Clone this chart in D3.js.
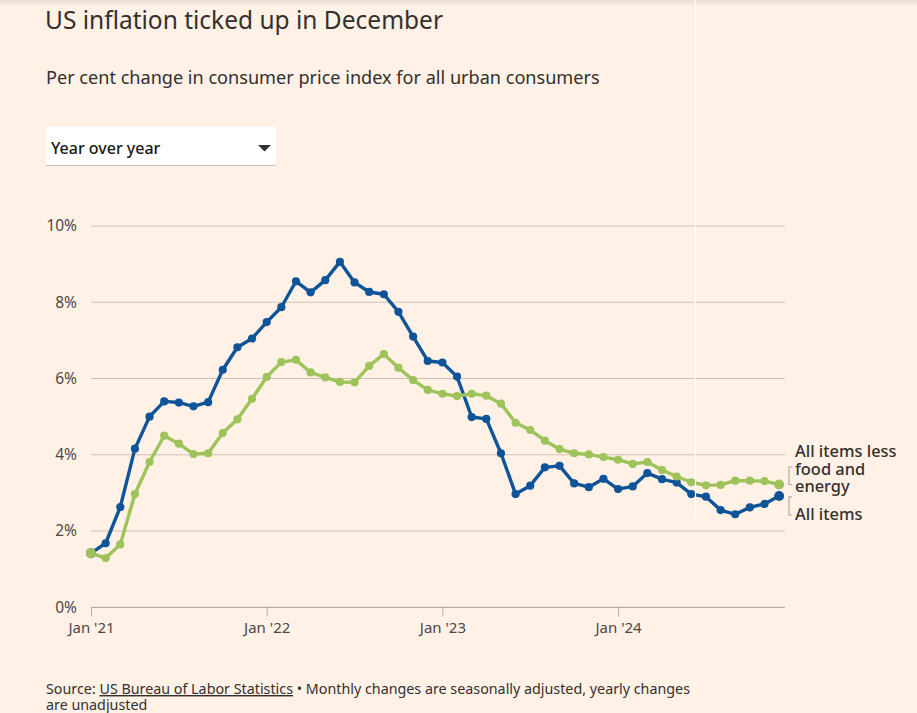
<!DOCTYPE html>
<html><head><meta charset="utf-8">
<script src="https://cdn.jsdelivr.net/npm/d3@7"></script>
<style>
html,body{margin:0;padding:0;background:#fff1e5;}
svg{display:block;font-family:"Noto Sans","Open Sans",sans-serif;}
</style></head>
<body><svg id="c" width="917" height="713"></svg>
<script>
const allItems = [1.42,1.68,2.63,4.16,5.00,5.40,5.37,5.27,5.38,6.23,6.82,7.05,
  7.48,7.87,8.55,8.26,8.58,9.06,8.52,8.27,8.21,7.75,7.10,6.46,
  6.42,6.05,4.99,4.94,4.04,2.97,3.19,3.67,3.71,3.25,3.15,3.37,
  3.10,3.17,3.52,3.36,3.27,2.97,2.90,2.55,2.44,2.62,2.71,2.92];
const core = [1.42,1.29,1.65,2.97,3.81,4.50,4.29,4.02,4.04,4.57,4.93,5.47,
  6.04,6.43,6.49,6.16,6.03,5.91,5.90,6.33,6.64,6.28,5.96,5.70,
  5.60,5.54,5.60,5.55,5.34,4.84,4.65,4.37,4.15,4.04,4.01,3.94,
  3.87,3.76,3.81,3.60,3.43,3.28,3.20,3.21,3.32,3.32,3.31,3.22];
const yTicks = [0,2,4,6,8,10];
const xTickIdx = [0,12,24,36];
const xTickLabels = ["Jan '21","Jan '22","Jan '23","Jan '24"];
const coreLabelLines = ["All items less","food and","energy"];
const allLabel = "All items";

const svg = d3.select("#c");
const x = d3.scaleLinear().domain([0,47.4]).range([91,785]);
const y = d3.scaleLinear().domain([0,10]).range([607.3,226]);

const defs = svg.append("defs");
const g0 = defs.append("linearGradient").attr("id","sh").attr("x1",0).attr("x2",0).attr("y1",0).attr("y2",1);
g0.append("stop").attr("offset",0).attr("stop-color","#e8dccf");
g0.append("stop").attr("offset",1).attr("stop-color","#fff1e5");
svg.append("rect").attr("x",0).attr("y",0).attr("width",917).attr("height",6).attr("fill","url(#sh)");

svg.append("text").attr("x",45).attr("y",29).attr("font-size",24.5).attr("fill","#33302e").text("US inflation ticked up in December");
svg.append("text").attr("x",46).attr("y",84).attr("font-size",18.1).attr("fill","#33302e").text("Per cent change in consumer price index for all urban consumers");

svg.append("rect").attr("x",46).attr("y",127).attr("width",230).attr("height",39).attr("fill","#ffffff");
svg.append("line").attr("x1",46).attr("x2",276).attr("y1",165.5).attr("y2",165.5).attr("stroke","#ccc1b7").attr("stroke-width",1);
svg.append("text").attr("x",51).attr("y",154).attr("font-size",16).attr("font-weight",500).attr("fill","#1a1817").text("Year over year");
svg.append("path").attr("d","M258,145 L271,145 L264.5,151.5 Z").attr("fill","#33302e");

svg.append("g").selectAll("line").data(yTicks.filter(d=>d>0)).join("line")
  .attr("x1",91).attr("x2",785).attr("y1",d=>y(d)).attr("y2",d=>y(d))
  .attr("stroke","#cdc2b8").attr("stroke-width",1);
svg.append("g").selectAll("text").data(yTicks).join("text")
  .attr("x",77).attr("y",d=>y(d)).attr("dy","0.35em").attr("text-anchor","end")
  .attr("font-size",15.5).attr("fill","#4d4845").text(d=>d+"%");

const xAxis = d3.axisBottom(x).tickValues(xTickIdx).tickFormat((d,i)=>xTickLabels[i]).tickSizeOuter(0).tickSize(9).tickPadding(6);
const ax = svg.append("g").attr("transform",`translate(0,${y(0)})`).call(xAxis);
ax.select(".domain").remove();
ax.append("line").attr("x1",91).attr("x2",785).attr("y1",0).attr("y2",0).attr("stroke","#a99d92").attr("stroke-width",1);
ax.selectAll(".tick line").attr("stroke","#b7aca2");
ax.selectAll(".tick text").attr("font-size",15).attr("fill","#4d4845").attr("font-family","Noto Sans, Open Sans, sans-serif");

const line = d3.line().x((d,i)=>x(i)).y(d=>y(d));
function drawSeries(vals, color){
  const g = svg.append("g");
  g.append("path").datum(vals).attr("d",line).attr("fill","none").attr("stroke",color).attr("stroke-width",3.4).attr("stroke-linejoin","round");
  g.selectAll("circle").data(vals).join("circle")
    .attr("cx",(d,i)=>x(i)).attr("cy",d=>y(d))
    .attr("r",(d,i)=> (i===0||i===vals.length-1)?5:4.1).attr("fill",color);
}
drawSeries(allItems,"#0f5499");
drawSeries(core,"#9dc35a");

svg.append("line").attr("x1",695.5).attr("x2",695.5).attr("y1",0).attr("y2",517).attr("stroke","#ffffff").attr("stroke-width",1.2);

const lastCore = y(core[core.length-1]), lastAll = y(allItems[allItems.length-1]);
svg.append("path").attr("d",`M792,467 H789 V${lastCore} H792`).attr("fill","none").attr("stroke","#b5aaa0").attr("stroke-width",1.2);
svg.append("path").attr("d",`M792,${lastAll+1} H789 V515 H792`).attr("fill","none").attr("stroke","#b5aaa0").attr("stroke-width",1.2);
const lg = svg.append("text").attr("x",795).attr("y",457).attr("font-size",16.4).attr("font-weight",500).attr("fill","#33302e");
coreLabelLines.forEach((t,i)=>lg.append("tspan").attr("x",795).attr("dy",i===0?0:17.5).text(t));
svg.append("text").attr("x",795).attr("y",520).attr("font-size",16.4).attr("font-weight",500).attr("fill","#33302e").text(allLabel);

const src = svg.append("text").attr("x",46).attr("y",694).attr("font-size",14.3).attr("fill","#33302e");
src.append("tspan").text("Source: ");
src.append("tspan").attr("text-decoration","underline").text("US Bureau of Labor Statistics");
src.append("tspan").text(" \u2022 Monthly changes are seasonally adjusted, yearly changes");
src.append("tspan").attr("x",46).attr("dy",16).text("are unadjusted");
</script></body></html>
